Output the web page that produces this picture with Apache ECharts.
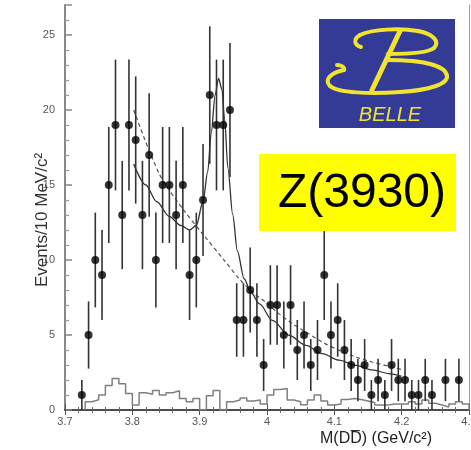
<!DOCTYPE html>
<html>
<head>
<meta charset="utf-8">
<script src="https://cdn.jsdelivr.net/npm/echarts@6/dist/echarts.min.js"></script>
<style>
html,body{margin:0;padding:0;background:#fff;}
#chart{width:471px;height:450px;}
</style>
</head>
<body>
<div id="chart"></div>
<script>
// ---- data ----
const binCenters = [3.725,3.735,3.745,3.755,3.765,3.775,3.785,3.795,3.805,3.815,3.825,3.835,3.845,3.855,3.865,3.875,3.885,3.895,3.905,3.915,3.925,3.935,3.945,3.955,3.965,3.975,3.985,3.995,4.005,4.015,4.025,4.035,4.045,4.055,4.065,4.075,4.085,4.095,4.105,4.115,4.125,4.135,4.145,4.155,4.165,4.175,4.185,4.195,4.205,4.215,4.225,4.235,4.245,4.265,4.285];
const counts =     [1,5,10,9,15,19,13,19,18,13,17,10,15,15,13,15,9,10,14,21,19,19,20,6,6,8,6,3,7,7,5,7,4,5,3,4,9,5,6,4,3,2,3,1,2,1,3,2,2,1,1,2,1,2,2];
const errors =     [1,2.24,3.16,3,3.87,4.36,3.61,4.36,4.24,3.61,4.12,3.16,3.87,3.87,3.61,3.87,3,3.16,3.74,4.58,4.36,4.36,4.47,2.45,2.45,2.83,2.45,1.73,2.65,2.65,2.24,2.65,2,2.24,1.73,2,3,2.24,2.45,2,1.73,1.41,1.73,1,1.41,1,1.73,1.41,1.41,1,1,1.41,1,1.41,1.41];

const histLowEdges = [3.73,3.74,3.75,3.76,3.77,3.78,3.79,3.80,3.81,3.82,3.83,3.84,3.85,3.86,3.87,3.88,3.89,3.90,3.91,3.92,3.93,3.94,3.95,3.96,3.97,3.98,3.99,4.00,4.01,4.02,4.03,4.04,4.05,4.06,4.07,4.08,4.09,4.10,4.11,4.12,4.13,4.14,4.15,4.16,4.17,4.18,4.19,4.20,4.21,4.22,4.23,4.24,4.25,4.26,4.27,4.28,4.29];
const histValues =   [0.55,0.68,1.0,1.63,2.1,1.75,1.1,0.33,1.15,1.05,1.3,1.0,1.15,1.28,0.77,0.55,0.77,0,0.95,1.3,0,0.55,0.66,0.8,0.6,0.66,0.4,1.0,1.37,1.44,0.66,0.55,0.35,0.66,1.0,0.6,0.33,0.4,0.7,0.77,0.7,0.6,0.5,0.33,0.33,0.4,0.4,0.4,0.55,0.4,0.66,0.45,0.33,0.2,0.4,0.55,0.4];
const histUpperEdge = 4.30;

const fitWithSignal = [[3.802,16.4],[3.82,15.0],[3.836,13.9],[3.855,12.9],[3.872,12.3],[3.885,12.0],[3.895,12.3],[3.905,13.9],[3.912,15.9],[3.917,18.4],[3.923,21.0],[3.928,22.1],[3.933,21.4],[3.937,19.4],[3.942,16.1],[3.949,13.05],[3.956,10.6],[3.966,8.75],[3.976,7.85],[3.989,7.07],[4.008,5.97],[4.033,4.97],[4.058,4.31],[4.082,3.76],[4.107,3.32],[4.132,2.98],[4.156,2.67],[4.181,2.43],[4.200,2.25]];
const fitBackground = [[3.802,20.0],[3.8405,15.7],[3.875,13.4],[3.907,11.6],[3.937,9.95],[3.959,8.73],[3.979,7.85],[3.998,7.18],[4.018,6.41],[4.038,5.75],[4.058,5.19],[4.082,4.53],[4.107,3.98],[4.132,3.53],[4.156,3.2],[4.181,2.92],[4.200,2.7]];

const xTicks = [3.7,3.8,3.9,4,4.1,4.2,4.3];
const yTicks = [0,5,10,15,20,25];

// ---- build ----
const pointData = binCenters.map((x,i)=>[x,counts[i]]);
const errData = binCenters.map((x,i)=>[x,counts[i]-errors[i],counts[i]+errors[i]]);
const histData = [[histLowEdges[0],0]].concat(histLowEdges.map((e,i)=>[e,histValues[i]])).concat([[histUpperEdge,histValues[histValues.length-1]],[histUpperEdge,0]]);

const FONT = '"Liberation Sans", Arial, sans-serif';
const Y = '#f2e42e';

// logo "B" strokes (decoration, pixel space): [x1,y1,cpx1,cpy1,cpx2,cpy2,x2,y2]
const logoCurves = [
  [361,47,354,45,353,39,360,35],[360,35,372,29,400,28,418,31],[418,31,434,34,440,42,434,48],[434,48,428,53,408,54,388,54],
  [337,65,341,65,345,67,344,70],[344,70,330,73,324,80,330,86],[330,86,338,93,370,94,400,92],[400,92,430,90,448,84,447,76],[447,76,446,66,425,60,387,60]
];
const logoGraphics = logoCurves.map(c=>({type:'bezierCurve', z:11,
  shape:{x1:c[0],y1:c[1],cpx1:c[2],cpy1:c[3],cpx2:c[4],cpy2:c[5],x2:c[6],y2:c[7]},
  style:{fill:null,stroke:Y,lineWidth:4,lineCap:'round'}}));

const chart = echarts.init(document.getElementById('chart'), null, {renderer:'canvas'});

chart.setOption({
  animation:false,
  backgroundColor:'#ffffff',
  grid:{left:65, top:5, width:404, height:405, outerBoundsMode:'none', containLabel:false},
  xAxis:[{
    type:'value', min:3.7, max:4.3, interval:0.1, position:'bottom',
    axisLine:{lineStyle:{color:'#333',width:1.5}},
    axisTick:{inside:true,length:6,lineStyle:{color:'#555'}},
    minorTick:{show:true,splitNumber:5,length:3,lineStyle:{color:'#666'}},
    axisLabel:{color:'#555',fontSize:11,fontFamily:FONT,margin:6,hideOverlap:false,
      formatter:v=>{const t=xTicks.find(k=>Math.abs(k-v)<1e-6);return t===undefined?'':String(t);}},
    splitLine:{show:false}
  },{
    type:'value', min:3.7, max:4.3, interval:0.1, position:'top',
    axisLine:{show:true,lineStyle:{color:'#444',width:1.5}},
    axisTick:{inside:true,length:5,lineStyle:{color:'#555'}},
    minorTick:{show:true,splitNumber:5,length:3,lineStyle:{color:'#666'}},
    axisLabel:{show:false}, splitLine:{show:false}
  }],
  yAxis:[{
    type:'value', min:0, max:27, interval:5,
    axisLine:{show:true,lineStyle:{color:'#888',width:2}},
    axisTick:{inside:true,length:7,lineStyle:{color:'#888',width:1.5}},
    minorTick:{show:true,splitNumber:5,length:4,lineStyle:{color:'#999',width:1.2}},
    axisLabel:{color:'#555',fontSize:11,fontFamily:FONT,margin:10,
      formatter:v=>yTicks.indexOf(v)>=0?String(v):''},
    splitLine:{show:false}
  },{
    type:'value', min:0, max:27, position:'right',
    axisLine:{show:true,lineStyle:{color:'#999',width:1}},
    axisTick:{show:false}, axisLabel:{show:false}, splitLine:{show:false}
  }],
  series:[
    {type:'line', data:histData, step:'end', symbol:'none', z:2,
      lineStyle:{color:'#808080',width:1.5}},
    {type:'line', data:fitBackground, smooth:0.3, symbol:'none', z:3,
      lineStyle:{color:'#555',width:1.2,type:[4,3]}},
    {type:'line', data:fitWithSignal, smooth:0.3, smoothMonotone:'x', symbol:'none', z:3,
      lineStyle:{color:'#333',width:1.3}},
    {type:'custom', z:4, data:errData,
      renderItem:(params,api)=>{
        const lo=api.coord([api.value(0),api.value(1)]);
        const hi=api.coord([api.value(0),api.value(2)]);
        return {type:'line',shape:{x1:lo[0],y1:lo[1],x2:hi[0],y2:hi[1]},
          style:{stroke:'#333',lineWidth:1.6}};
      }},
    {type:'scatter', data:pointData, symbol:'circle', symbolSize:8, z:5,
      itemStyle:{color:'#000'}}
  ],
  graphic:[
    {type:'rect', shape:{x:319,y:19,width:136,height:109}, style:{fill:'#333b96'}, z:10}
  ].concat(logoGraphics).concat([
    {type:'line', z:11, shape:{x1:400,y1:31,x2:372,y2:90}, style:{stroke:Y,lineWidth:5,lineCap:'round'}},
    {type:'text', z:11, x:390, y:115, style:{text:'BELLE',fill:Y,font:'italic 20px '+FONT,textAlign:'center',textVerticalAlign:'middle'}},
    {type:'rect', shape:{x:259,y:154,width:197,height:77}, style:{fill:'#ffff00'}, z:10},
    {type:'text', z:11, x:362, y:194, style:{text:'Z(3930)',fill:'#000',font:'48px '+FONT,textAlign:'center',textVerticalAlign:'middle'}},
    {type:'text', z:11, x:42, y:220, rotation:Math.PI/2, style:{text:'Events/10 MeV/c²',fill:'#333',font:'17px '+FONT,textAlign:'center',textVerticalAlign:'middle'}},
    {type:'text', z:11, x:376, y:439, style:{text:'M(DD\u0305) (GeV/c²)',fill:'#222',font:'16px '+FONT,textAlign:'center',textVerticalAlign:'middle'}}
  ])
});
</script>
</body>
</html>
